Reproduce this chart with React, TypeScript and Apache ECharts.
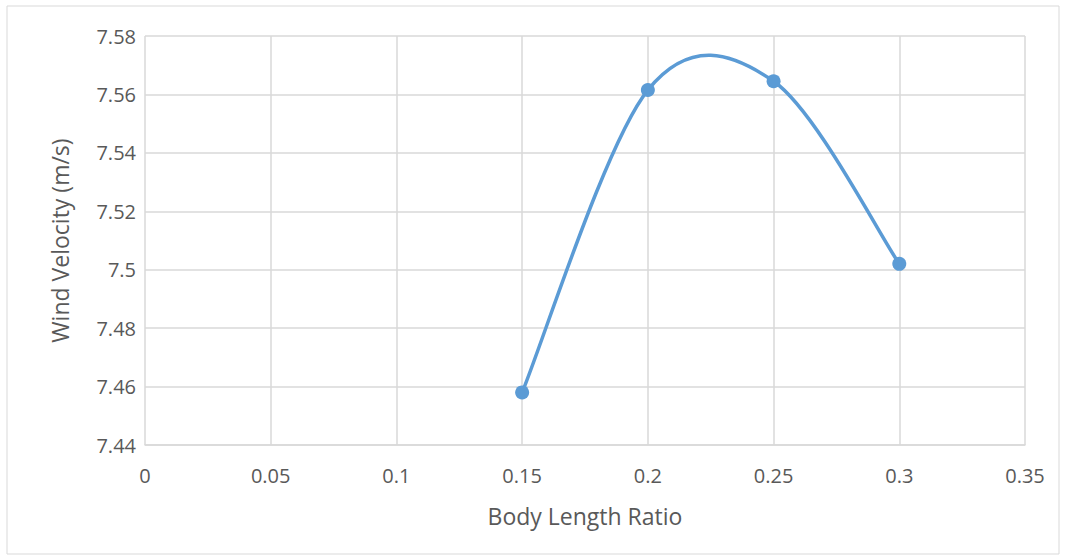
import React, { useEffect, useRef } from "react";
import * as echarts from "echarts";

const xValues = [0.15, 0.2, 0.25, 0.3];
const yValues = [7.458, 7.5615, 7.5645, 7.502];
const xTitle = "Body Length Ratio";
const yTitle = "Wind Velocity (m/s)";

const COLOR = "#5b9bd5";

export default function App() {
  const ref = useRef<HTMLDivElement>(null);
  useEffect(() => {
    const chart = echarts.init(ref.current!, null, { renderer: "svg" });
    const font = "'Open Sans', 'Noto Sans', sans-serif";
    const points = xValues.map((x, i) => [x, yValues[i]]);
    chart.setOption({
      animation: false,
      backgroundColor: "#ffffff",
      graphic: [
        {
          type: "rect",
          shape: { x: 7, y: 6, width: 1052, height: 548 },
          style: { fill: "none", stroke: "#d9d9d9", lineWidth: 1 },
          silent: true,
        },
      ],
      grid: { left: 145, right: 40, top: 36, bottom: 115 },
      xAxis: {
        type: "value",
        min: 0,
        max: 0.35,
        interval: 0.05,
        name: xTitle,
        nameLocation: "middle",
        nameGap: 59,
        nameTextStyle: { fontFamily: font, fontSize: 23, color: "#595959" },
        axisLine: { show: true, lineStyle: { color: "#d9d9d9", width: 1.5 } },
        axisTick: { show: false },
        axisLabel: {
          fontFamily: font,
          fontSize: 20,
          color: "#595959",
          margin: 20,
          formatter: (v: number) => String(parseFloat(v.toFixed(2))),
        },
        splitLine: { show: true, lineStyle: { color: "#d9d9d9", width: 1.5 } },
      },
      yAxis: {
        type: "value",
        min: 7.44,
        max: 7.58,
        interval: 0.02,
        name: yTitle,
        nameLocation: "middle",
        nameGap: 74,
        nameTextStyle: { fontFamily: font, fontSize: 23, color: "#595959" },
        axisLine: { show: false },
        axisTick: { show: false },
        axisLabel: {
          fontFamily: font,
          fontSize: 20,
          color: "#595959",
          margin: 9,
          formatter: (v: number) => String(parseFloat(v.toFixed(2))),
        },
        splitLine: { show: true, lineStyle: { color: "#d9d9d9", width: 1.5 } },
      },
      series: [
        {
          type: "custom",
          data: points.slice(0, points.length - 1),
          z: 2,
          renderItem: (params: any, api: any) => {
            const i = params.dataIndex;
            const n = points.length;
            const p = (k: number) => {
              const kk = Math.max(0, Math.min(n - 1, k));
              return api.coord(points[kk]);
            };
            const p0 = p(i - 1);
            const p1 = p(i);
            const p2 = p(i + 1);
            const p3 = p(i + 2);
            const c1 = [p1[0] + (p2[0] - p0[0]) / 6, p1[1] + (p2[1] - p0[1]) / 6];
            const c2 = [p2[0] - (p3[0] - p1[0]) / 6, p2[1] - (p3[1] - p1[1]) / 6];
            return {
              type: "bezierCurve",
              shape: {
                x1: p1[0],
                y1: p1[1],
                cpx1: c1[0],
                cpy1: c1[1],
                cpx2: c2[0],
                cpy2: c2[1],
                x2: p2[0],
                y2: p2[1],
              },
              style: { stroke: COLOR, fill: null, lineWidth: 3.5, lineCap: "round" },
            };
          },
        },
        {
          type: "scatter",
          data: points,
          z: 3,
          symbol: "circle",
          symbolSize: 14,
          itemStyle: { color: COLOR, opacity: 1 },
        },
      ],
    });
    return () => chart.dispose();
  }, []);
  return (
    <div
      ref={ref}
      style={{ position: "fixed", left: 0, top: 0, width: 1065, height: 560 }}
    />
  );
}
